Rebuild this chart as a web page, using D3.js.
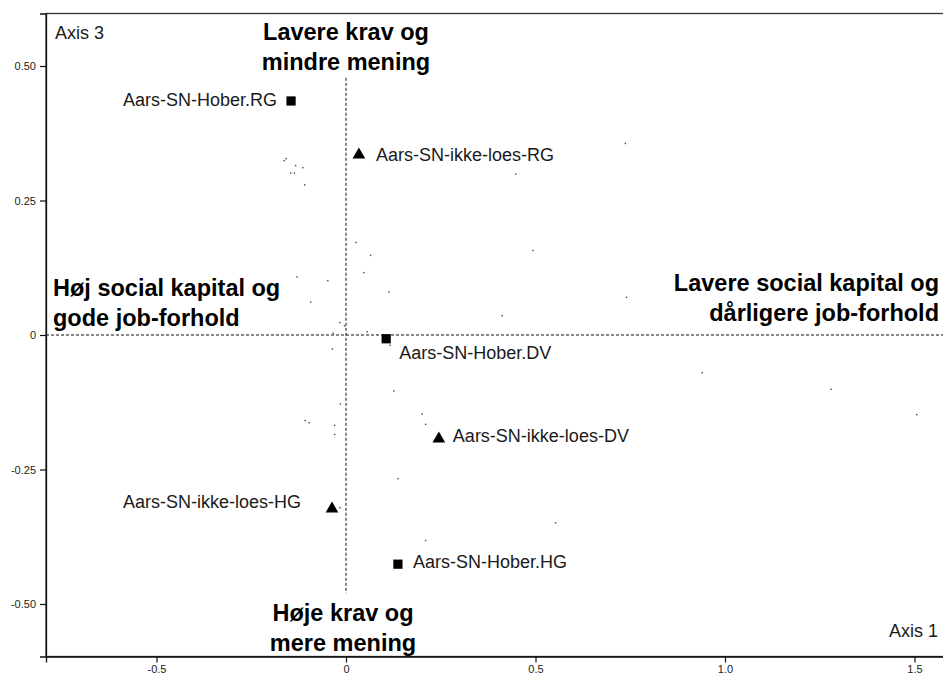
<!DOCTYPE html>
<html>
<head>
<meta charset="utf-8">
<script src="https://cdn.jsdelivr.net/npm/d3@7"></script>
<style>
  html, body { margin: 0; padding: 0; background: #fff; }
  svg { display: block; font-family: "Liberation Sans", Arial, sans-serif; }
</style>
</head>
<body>
<svg id="chart" width="943" height="679"></svg>
<script>
// Labelled category points (Axis 1, Axis 3)
const pointNames = ["Aars-SN-Hober.RG", "Aars-SN-ikke-loes-RG", "Aars-SN-Hober.DV",
                    "Aars-SN-ikke-loes-DV", "Aars-SN-ikke-loes-HG", "Aars-SN-Hober.HG"];
const pointX = [-0.145, 0.034, 0.106, 0.245, -0.037, 0.137];
const pointY = [0.435, 0.335, -0.007, -0.193, -0.323, -0.426];
const pointShape = ["square", "triangle", "square", "triangle", "triangle", "square"];

// Supplementary individuals (tiny dots)
const dotX = [-0.163, -0.158, -0.133, -0.114, -0.146, -0.136, -0.109, -0.129, -0.048, -0.093,
              0.026, 0.065, 0.047, 0.113, 0.737, 0.448, 0.493, 0.740, 0.412, 0.940,
              1.280, 1.506, -0.016, -0.004, -0.034, 0.056, 0.116, -0.036, 0.126, -0.015,
              0.201, 0.210, -0.108, -0.097, -0.030, -0.030, 0.137, -0.016, 0.553, 0.210];
const dotY = [0.324, 0.328, 0.315, 0.311, 0.301, 0.301, 0.279, 0.108, 0.101, 0.061,
              0.172, 0.148, 0.116, 0.080, 0.356, 0.299, 0.157, 0.070, 0.036, -0.070,
              -0.101, -0.148, 0.023, 0.017, 0.003, 0.006, -0.019, -0.026, -0.104, -0.128,
              -0.147, -0.166, -0.159, -0.163, -0.168, -0.185, -0.267, -0.321, -0.349, -0.382];

// Axis ticks
const xTicks = [-0.5, 0, 0.5, 1.0, 1.5];
const xTickLabels = ["-0.5", "0", "0.5", "1.0", "1.5"];
const yTicks = [0.5, 0.25, 0, -0.25, -0.5];
const yTickLabels = ["0.50", "0.25", "0", "-0.25", "-0.50"];

const svg = d3.select("#chart");
const plotL = 46, plotR = 945, plotT = 13.5, plotB = 656.5;

const x = d3.scaleLinear().domain([-0.7916, 1.5805]).range([plotL, plotR]);
const y = d3.scaleLinear().domain([-0.5976, 0.5976]).range([plotB, plotT]);

// Frame
svg.append("rect")
  .attr("x", plotL).attr("y", plotT)
  .attr("width", plotR - plotL).attr("height", plotB - plotT)
  .attr("fill", "none").attr("stroke", "#333").attr("stroke-width", 1.3);

// Axes
const yAxis = d3.axisLeft(y).tickValues(yTicks)
  .tickFormat((d, i) => yTickLabels[i]).tickSize(6).tickPadding(4);
const gy = svg.append("g").attr("transform", `translate(${plotL},0)`).call(yAxis);
const xAxis = d3.axisBottom(x).tickValues(xTicks)
  .tickFormat((d, i) => xTickLabels[i]).tickSize(6).tickPadding(3);
const gx = svg.append("g").attr("transform", `translate(0,${plotB})`).call(xAxis);
[gx, gy].forEach(g => {
  g.select(".domain").attr("stroke", "#111").attr("stroke-width", 1.3);
  g.selectAll(".tick line").attr("stroke", "#111").attr("stroke-width", 1.2);
  g.selectAll(".tick text").attr("fill", "#222")
    .style("font-family", "'Liberation Sans', Arial, sans-serif").style("font-size", "11px");
});

// Origin reference lines
svg.append("line")
  .attr("x1", plotL).attr("x2", plotR)
  .attr("y1", y(0)).attr("y2", y(0))
  .attr("stroke", "#111").attr("stroke-width", 1).attr("stroke-dasharray", "3,2");
svg.append("line")
  .attr("x1", x(0)).attr("x2", x(0))
  .attr("y1", y(0.478)).attr("y2", y(-0.48))
  .attr("stroke", "#111").attr("stroke-width", 1).attr("stroke-dasharray", "3,2");

// Tiny dots
svg.append("g").selectAll("rect")
  .data(dotX.map((d, i) => [d, dotY[i]]))
  .join("rect")
  .attr("x", d => x(d[0]) - 0.7).attr("y", d => y(d[1]) - 0.7)
  .attr("width", 1.4).attr("height", 1.4)
  .attr("fill", "#444");

// Category markers
const pts = pointNames.map((n, i) => ({ name: n, vx: pointX[i], vy: pointY[i], shape: pointShape[i] }));
const sym = { square: d3.symbolSquare, triangle: d3.symbolTriangle };
svg.append("g").selectAll("path")
  .data(pts)
  .join("path")
  .attr("transform", d => `translate(${x(d.vx)},${y(d.vy)})`)
  .attr("d", d => d3.symbol().type(sym[d.shape]).size(d.shape === "square" ? 85 : 70)())
  .attr("fill", "#000");

// Category labels: [dx, dy, anchor]
const labelOffsets = [[-14, 5, "end"], [17, 6, "start"], [13, 20, "start"],
                      [14, 3, "start"], [-31, -1, "end"], [15, 4, "start"]];
svg.append("g").selectAll("text")
  .data(pts)
  .join("text")
  .attr("x", (d, i) => x(d.vx) + labelOffsets[i][0])
  .attr("y", (d, i) => y(d.vy) + labelOffsets[i][1])
  .attr("text-anchor", (d, i) => labelOffsets[i][2])
  .attr("font-size", 18)
  .attr("fill", "#1a1a1a")
  .text(d => d.name);

// Axis names
svg.append("text").attr("x", 55).attr("y", 39).attr("font-size", 18).attr("fill", "#1a1a1a").text("Axis 3");
svg.append("text").attr("x", 938).attr("y", 637).attr("text-anchor", "end")
  .attr("font-size", 18).attr("fill", "#1a1a1a").text("Axis 1");

// Quadrant annotations
const notes = [
  { lines: ["Lavere krav og", "mindre mening"], x: 346, y: 40, anchor: "middle" },
  { lines: ["Høj social kapital og", "gode job-forhold"], x: 53, y: 296, anchor: "start" },
  { lines: ["Lavere social kapital og", "dårligere job-forhold"], x: 939, y: 291, anchor: "end" },
  { lines: ["Høje krav og", "mere mening"], x: 343, y: 621, anchor: "middle" }
];
notes.forEach(n => {
  const t = svg.append("text")
    .attr("x", n.x).attr("y", n.y)
    .attr("text-anchor", n.anchor)
    .attr("font-size", 23.5).attr("font-weight", "bold").attr("fill", "#000");
  n.lines.forEach((l, i) => {
    t.append("tspan").attr("x", n.x).attr("dy", i === 0 ? 0 : 30).text(l);
  });
});
</script>
</body>
</html>
